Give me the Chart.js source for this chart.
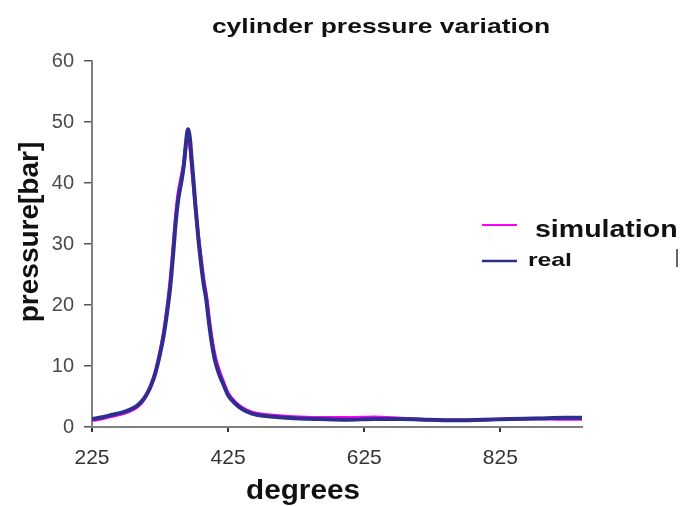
<!DOCTYPE html>
<html>
<head>
<meta charset="utf-8">
<script src="https://cdn.jsdelivr.net/npm/chart.js@4.4.0/dist/chart.umd.min.js"></script>
<style>
  html, body { margin: 0; padding: 0; background: #fff; }
  #wrap { width: 681px; height: 506px; }
</style>
</head>
<body>
<div id="wrap"><canvas id="canvas-1" width="681" height="506"></canvas></div>
<script>
// crank angle (degrees) and pressure (bar)
let degrees = [225, 240, 255, 270, 280, 290, 298, 305, 312, 318, 324, 330, 335, 340, 344, 348, 352, 356, 360, 363, 366, 369, 371, 374, 377, 381, 385, 389, 393, 397, 401, 406, 412, 418, 425, 435, 445, 460, 480, 500, 530, 560, 600, 640, 680, 720, 760, 800, 840, 880, 920, 945]
let real = [1.3, 1.6, 2.0, 2.4, 2.8, 3.4, 4.2, 5.3, 6.9, 8.8, 11.5, 14.8, 18.5, 23.0, 28.0, 33.5, 37.5, 40.0, 43.0, 46.5, 48.8, 47.2, 44.5, 40.5, 36.3, 31.2, 27.0, 23.5, 20.8, 17.0, 13.8, 10.8, 8.6, 7.0, 5.2, 3.9, 3.0, 2.2, 1.8, 1.6, 1.4, 1.3, 1.2, 1.3, 1.3, 1.2, 1.1, 1.2, 1.3, 1.4, 1.5, 1.5]
let simulation = [1.1, 1.4, 1.8, 2.2, 2.6, 3.2, 4.0, 5.2, 6.9, 9.0, 11.8, 15.3, 19.2, 24.0, 29.0, 34.5, 38.5, 40.8, 43.2, 46.0, 47.5, 46.0, 43.5, 39.8, 36.0, 31.5, 27.8, 24.2, 21.5, 17.8, 14.5, 11.5, 9.2, 7.4, 5.5, 4.1, 3.2, 2.4, 2.0, 1.8, 1.6, 1.5, 1.5, 1.6, 1.4, 1.2, 1.1, 1.2, 1.3, 1.4, 1.3, 1.3]
let xTicks = [225, 425, 625, 825]
let yTicks = [0, 10, 20, 30, 40, 50, 60]

const FONT = "'Liberation Sans', Arial, sans-serif"

function pts(vals) {
  return degrees.map((d, i) => ({ x: d, y: vals[i] }))
}

// stretched text helper (the original picture is a bit wide)
function txt(ctx, s, x, y, size, sx, align) {
  ctx.save()
  ctx.font = 'bold ' + size + 'px ' + FONT
  ctx.textAlign = align || 'center'
  ctx.textBaseline = 'alphabetic'
  ctx.translate(x, y)
  ctx.scale(sx, 1)
  ctx.fillText(s, 0, 0)
  ctx.restore()
}

const extras = {
  id: 'extras',
  afterDraw(chart) {
    const ctx = chart.ctx
    ctx.fillStyle = '#111'
    // title
    txt(ctx, 'cylinder pressure variation', 381, 33, 21, 1.26)
    // axis titles
    txt(ctx, 'degrees', 303, 499, 28, 1.06)
    ctx.save()
    ctx.translate(38, 232)
    ctx.rotate(-Math.PI / 2)
    txt(ctx, 'pressure[bar]', 0, 0, 28, 1.0)
    ctx.restore()
    // legend
    ctx.save()
    ctx.lineWidth = 2
    ctx.strokeStyle = '#ff00ff'
    ctx.beginPath(); ctx.moveTo(482, 225); ctx.lineTo(517, 225); ctx.stroke()
    ctx.lineWidth = 2.5
    ctx.strokeStyle = '#2e2e8f'
    ctx.beginPath(); ctx.moveTo(482, 261); ctx.lineTo(517, 261); ctx.stroke()
    ctx.lineWidth = 2
    ctx.strokeStyle = '#666'
    ctx.beginPath(); ctx.moveTo(677, 249); ctx.lineTo(677, 267); ctx.stroke()
    ctx.restore()
    ctx.fillStyle = '#111'
    txt(ctx, 'simulation', 535, 237, 23, 1.24, 'left')
    txt(ctx, 'real', 528, 266, 19, 1.3, 'left')
  }
}

const lineChart = new Chart(document.getElementById('canvas-1'), {
  type: 'line',
  data: {
    datasets: [{
      label: 'real',
      data: pts(real),
      borderColor: '#2e2e8f',
      borderWidth: 4,
      pointRadius: 0,
      cubicInterpolationMode: 'monotone'
    }, {
      label: 'simulation',
      data: pts(simulation),
      borderColor: '#ff00ff',
      borderWidth: 3.5,
      pointRadius: 0,
      cubicInterpolationMode: 'monotone'
    }]
  },
  options: {
    responsive: false,
    animation: false,
    layout: {
      padding: { top: 61, right: 99, bottom: 0, left: 0 }
    },
    plugins: {
      legend: { display: false },
      title: { display: false },
      tooltip: { enabled: false }
    },
    scales: {
      x: {
        type: 'linear',
        min: 225,
        max: 945,
        afterFit: (s) => { s.height = 79 },
        afterBuildTicks: (s) => { s.ticks = xTicks.map(v => ({ value: v })) },
        border: { display: true, color: '#808080', width: 2 },
        grid: { drawOnChartArea: false, drawTicks: true, tickLength: 5, color: '#333', lineWidth: 2 },
        ticks: {
          color: '#333',
          padding: 14,
          maxRotation: 0,
          font: { size: 21, family: FONT }
        }
      },
      y: {
        min: 0,
        max: 60,
        afterFit: (s) => { s.width = 92 },
        afterBuildTicks: (s) => { s.ticks = yTicks.map(v => ({ value: v })) },
        border: { display: true, color: '#808080', width: 2 },
        grid: { drawOnChartArea: false, drawTicks: true, tickLength: 8, color: '#555', lineWidth: 1.5 },
        ticks: {
          color: '#4a4a4a',
          padding: 10,
          font: { size: 20, family: FONT }
        }
      }
    }
  },
  plugins: [extras]
}
);
</script>
</body>
</html>
